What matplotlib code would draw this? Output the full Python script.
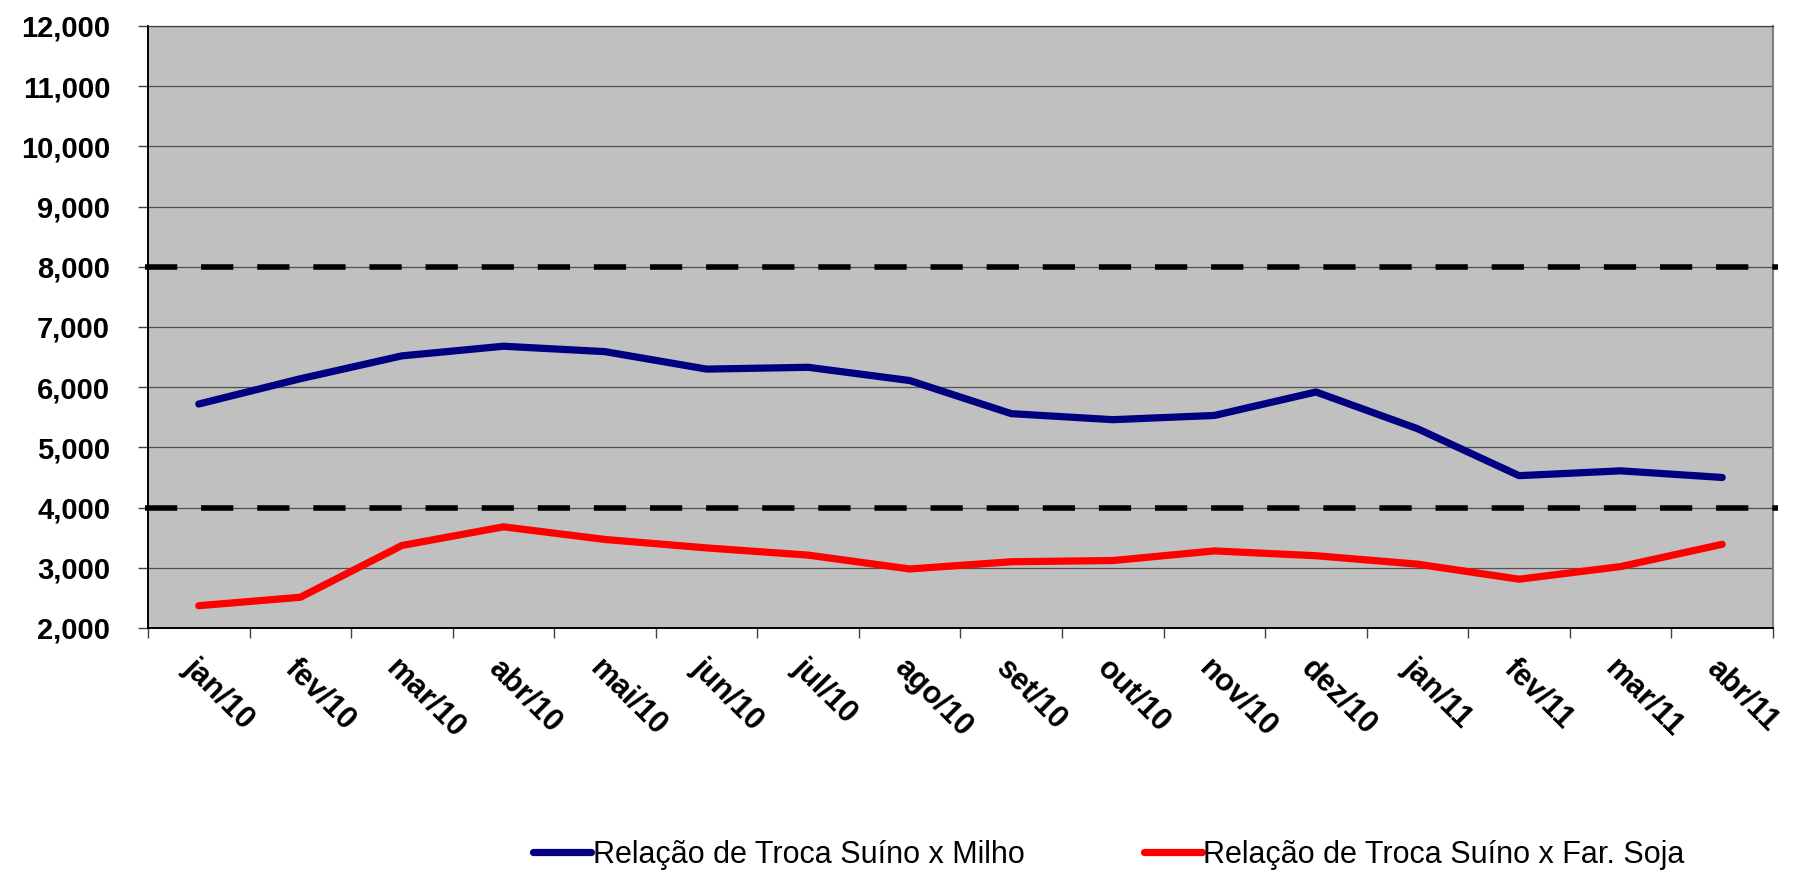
import matplotlib
matplotlib.use("Agg")
import matplotlib.pyplot as plt
import matplotlib.transforms as mtransforms
from matplotlib.ticker import FuncFormatter, FixedLocator

# dados
meses = ["jan/10", "fev/10", "mar/10", "abr/10", "mai/10", "jun/10", "jul/10", "ago/10",
         "set/10", "out/10", "nov/10", "dez/10", "jan/11", "fev/11", "mar/11", "abr/11"]
suino_milho = [5.72, 6.14, 6.52, 6.68, 6.59, 6.30, 6.33, 6.11,
               5.56, 5.46, 5.53, 5.92, 5.31, 4.53, 4.61, 4.50]
suino_soja = [2.37, 2.51, 3.37, 3.68, 3.47, 3.33, 3.21, 2.98,
              3.10, 3.12, 3.28, 3.20, 3.06, 2.81, 3.02, 3.39]
limites = [4.0, 8.0]
nomes = ["Relação de Troca Suíno x Milho", "Relação de Troca Suíno x Far. Soja"]

plt.rcParams["font.family"] = ["Liberation Sans", "DejaVu Sans"]

fig = plt.figure(figsize=(17.98, 8.74), dpi=100)
ax = fig.add_axes([0.0823, 0.2815, 0.9038, 0.6888])
ax.set_facecolor("#C0C0C0")

x = list(range(len(meses)))

# grade horizontal
ax.set_ylim(2, 12)
ax.set_yticks([2, 3, 4, 5, 6, 7, 8, 9, 10, 11, 12])
ax.yaxis.grid(True, color="#505050", linewidth=0.9)
ax.set_axisbelow(True)

# linhas de referencia tracejadas
for lim in limites:
    ax.axhline(lim, xmin=-0.002, xmax=1.003, color="black", linewidth=4.0,
               dashes=(5.8, 4.3), dash_capstyle="butt", clip_on=False, zorder=3)

# series
ax.plot(x, suino_milho, color="#000080", linewidth=5.2, solid_capstyle="round",
        solid_joinstyle="round", label=nomes[0], zorder=4)
ax.plot(x, suino_soja, color="#FF0000", linewidth=5.2, solid_capstyle="round",
        solid_joinstyle="round", label=nomes[1], zorder=4)

# eixo x: marcas entre categorias, rotulos no centro
ax.set_xlim(-0.5, len(meses) - 0.5)
ax.xaxis.set_major_locator(FixedLocator([i - 0.5 for i in range(len(meses) + 1)]))
ax.xaxis.set_minor_locator(FixedLocator(x))
ax.set_xticklabels([])
ax.set_xticklabels(meses, minor=True, rotation=-45, ha="left", va="top",
                   rotation_mode="anchor", fontsize=22, fontweight="bold")
ax.tick_params(axis="x", which="major", length=7.2, width=1, color="#404040", direction="out")
ax.tick_params(axis="x", which="minor", length=0, pad=18)
offset = mtransforms.ScaledTranslation(0, 0, fig.dpi_scale_trans)
for lbl in ax.get_xticklabels(minor=True):
    lbl.set_transform(lbl.get_transform() + offset)

# eixo y
ax.yaxis.set_major_formatter(FuncFormatter(lambda v, p: f"{v:.3f}".replace(".", ",")))
ax.tick_params(axis="y", length=7.2, width=1, color="#404040", direction="out", pad=20,
               labelsize=21)
for lbl in ax.get_yticklabels():
    lbl.set_fontweight("bold")

ax.spines["left"].set_color("black")
ax.spines["left"].set_linewidth(1.4)
ax.spines["bottom"].set_color("black")
ax.spines["bottom"].set_linewidth(1.4)
ax.spines["top"].set_color("#404040")
ax.spines["top"].set_linewidth(0.9)
ax.spines["right"].set_color("#808080")
ax.spines["right"].set_linewidth(1.5)

# legenda
fig.legend(loc="center left", bbox_to_anchor=(533 / 1798, 1 - 855 / 874), ncol=2,
           frameon=False, fontsize=22, handlelength=1.9, handletextpad=0.05,
           columnspacing=3.9, borderpad=0, borderaxespad=0)

fig.savefig("out.png", dpi=100, facecolor="white")
